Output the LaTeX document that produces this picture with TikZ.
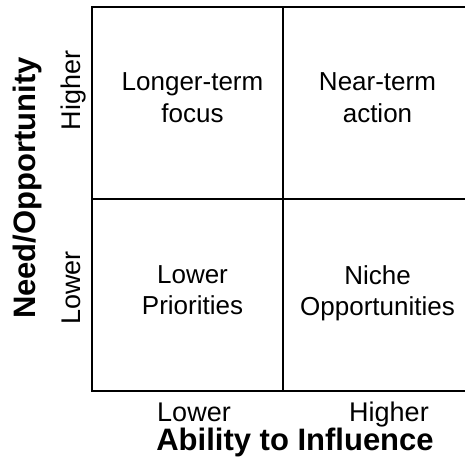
\documentclass[tikz,border=0pt]{standalone}
\usepackage{fontspec}
\setmainfont{Liberation Sans}
\usetikzlibrary{positioning}

\begin{document}
\begin{tikzpicture}[x=1pt, y=-1pt,
            frame/.style={line width=2pt},
            divide/.style={line width=2.8pt},
            cell/.style={anchor=north, align=center, inner sep=0pt,
              font=\fontsize{26}{31.5}\selectfont},
            tick/.style={anchor=base, inner sep=0pt, font=\fontsize{27}{32}\selectfont},
            axis/.style={anchor=base, inner sep=0pt, font=\fontsize{31}{36}\selectfont\bfseries}]
          \useasboundingbox (0,0) rectangle (465,471);
          % corners of the grid, the right side runs off the page
          \coordinate (tl) at (91.5,7);
          \coordinate (bl) at (91.5,391);
          \coordinate (tr) at (470,7);
          \coordinate (br) at (470,391);
          \coordinate (mt) at (283,7);
          \coordinate (mb) at (283,391);
          \coordinate (ml) at (91.5,199);
          \coordinate (mr) at (470,199);
          \draw [frame] (tr) -- (tl) -- (bl) -- (br);
          \draw [divide] (mt) -- (mb);
          \draw [divide] (ml) -- (mr);
          % quadrants
          \node[cell] (longer) at (192.5,72.7) {Longer-term\\focus};
          \node[cell] (near) at (377.5,72.7) {Near-term\\action};
          \node[cell] (lowpri) at (192.5,265) {Lower\\Priorities};
          \node[cell] (niche) at (377.5,265) {Niche\\Opportunities};
          % axes
          \node[tick] (xlow) at (194,421) {Lower};
          \node[tick] (xhigh) at (389,421) {Higher};
          \node[axis] (xname) at (295,450) {Ability to Influence};
          \node[tick, rotate=90] (yhigh) at (80,90.7) {Higher};
          \node[tick, rotate=90] (ylow) at (80,288) {Lower};
          \node[axis, rotate=90] (yname) at (35.5,188) {Need/Opportunity};
        \end{tikzpicture}
\end{document}
